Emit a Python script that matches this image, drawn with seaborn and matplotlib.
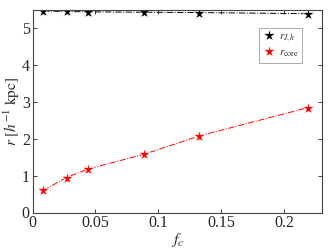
import numpy as np
import pandas as pd
import matplotlib
matplotlib.use('Agg')
import matplotlib.pyplot as plt
import seaborn as sns

fc = [0.0085, 0.027, 0.044, 0.0885, 0.1325, 0.219]
r_jh = [5.47, 5.46, 5.45, 5.44, 5.43, 5.40]
r_core = [0.60, 0.95, 1.18, 1.58, 2.08, 2.85]

sns.set_theme(style='ticks')
plt.rcParams.update({
    'font.family': ['Liberation Serif', 'DejaVu Serif'],
    'mathtext.fontset': 'stix',
    'xtick.direction': 'in',
    'ytick.direction': 'in',
    'xtick.top': True,
    'ytick.right': True,
    'axes.edgecolor': '#444444',
    'axes.linewidth': 0.8,
})

df = pd.DataFrame({'fc': fc * 2,
                   'r': r_jh + r_core,
                   'kind': [r'$r_{J,h}$'] * 6 + [r'$r_{\rm core}$'] * 6})

fig, ax = plt.subplots(figsize=(3.32, 2.5), dpi=100)
sns.lineplot(data=df, x='fc', y='r', hue='kind', palette=['black', 'red'],
             marker='*', markersize=9.5, markeredgewidth=0.5, linewidth=0.7,
             ax=ax)
for ln in ax.lines:
    ln.set_linestyle('-.')

ax.set_xlim(0, 0.23)
ax.set_ylim(0, 5.5)
ax.set_xticks([0, 0.05, 0.1, 0.15, 0.2])
ax.set_xticklabels(['0', '0.05', '0.1', '0.15', '0.2'])
ax.set_yticks([0, 1, 2, 3, 4, 5])
ax.tick_params(labelsize=11.5, length=3, width=0.6, pad=2)
ax.set_xlabel(r'$f_c$', fontsize=11.5, labelpad=0)
ax.set_ylabel(r'$r\ [h^{-1}\ \mathrm{kpc}]$', fontsize=11, labelpad=0)

leg = ax.legend(loc='upper right', bbox_to_anchor=(0.95, 0.94), fontsize=8,
                frameon=True, fancybox=False, edgecolor='#888888',
                handlelength=1.0, handletextpad=0.4, borderpad=0.35,
                labelspacing=0.3, markerscale=1.0)
leg.get_frame().set_linewidth(0.6)
for h in leg.get_lines():
    h.set_linestyle('none')

fig.subplots_adjust(left=0.098, right=0.97, top=0.96, bottom=0.15)
fig.savefig('out.png', dpi=100)
